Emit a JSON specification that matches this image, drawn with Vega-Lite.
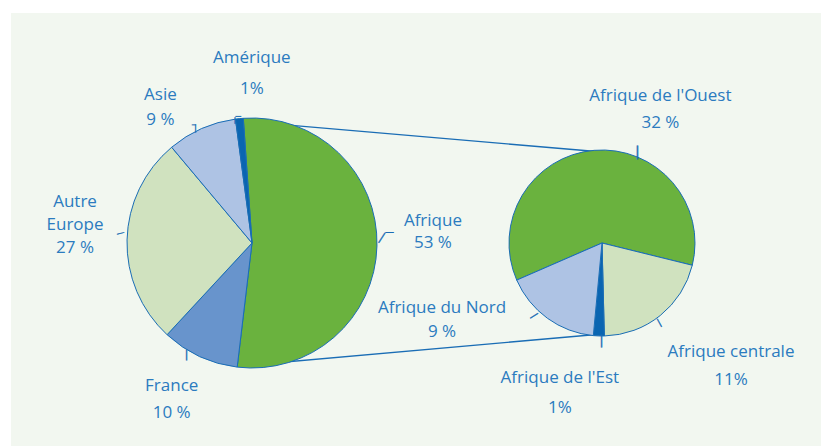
{
  "$schema": "https://vega.github.io/schema/vega-lite/v6.json",
  "width": 810,
  "height": 433,
  "autosize": {"type": "none"},
  "padding": {"left": 11, "top": 13, "right": 0, "bottom": 0},
  "background": "#ffffff",
  "config": {
    "view": {"fill": "#f2f7f0", "stroke": null},
    "text": {"font": "Open Sans", "fontSize": 17, "fill": "#2b7bbf", "align": "center", "baseline": "middle", "lineBreak": "\n"}
  },
  "datasets": {
    "ensemble": [
      {"groupe": "Ensemble", "zone": "Afrique", "part": 53, "rang": 1, "libelle": "Afrique\n53 %"},
      {"groupe": "Ensemble", "zone": "France", "part": 10, "rang": 2, "libelle": "France\n10 %"},
      {"groupe": "Ensemble", "zone": "Autre Europe", "part": 27, "rang": 3, "libelle": "Autre\nEurope\n27 %"},
      {"groupe": "Ensemble", "zone": "Asie", "part": 9, "rang": 4, "libelle": "Asie\n9 %"},
      {"groupe": "Ensemble", "zone": "Amérique", "part": 1, "rang": 5, "libelle": "Amérique\n1%"}
    ],
    "afrique": [
      {"groupe": "Afrique", "zone": "Afrique de l'Ouest", "part": 32, "rang": 1, "libelle": "Afrique de l'Ouest\n32 %"},
      {"groupe": "Afrique", "zone": "Afrique centrale", "part": 11, "rang": 2, "libelle": "Afrique centrale\n11%"},
      {"groupe": "Afrique", "zone": "Afrique de l'Est", "part": 1, "rang": 3, "libelle": "Afrique de l'Est\n1%"},
      {"groupe": "Afrique", "zone": "Afrique du Nord", "part": 9, "rang": 4, "libelle": "Afrique du Nord\n9 %"}
    ],
    "liaisons": [
      {"groupe": "Ensemble"},
      {"groupe": "Afrique"}
    ]
  },
  "layer": [
    {
      "data": {"name": "liaisons"},
      "mark": {"type": "line", "stroke": "#1a6db5", "strokeWidth": 1.4},
      "encoding": {
        "x": {"field": "groupe", "type": "nominal", "scale": {"type": "point", "domain": ["Ensemble", "Afrique"], "range": [241, 591], "padding": 0}, "axis": null},
        "y": {"field": "groupe", "type": "nominal", "scale": {"type": "point", "domain": ["Ensemble", "Afrique"], "range": [109, 139], "padding": 0}, "axis": null}
      }
    },
    {
      "data": {"name": "liaisons"},
      "mark": {"type": "line", "stroke": "#1a6db5", "strokeWidth": 1.4},
      "encoding": {
        "x": {"field": "groupe", "type": "nominal", "scale": {"type": "point", "domain": ["Ensemble", "Afrique"], "range": [241, 591], "padding": 0}, "axis": null},
        "y": {"field": "groupe", "type": "nominal", "scale": {"type": "point", "domain": ["Ensemble", "Afrique"], "range": [352, 321], "padding": 0}, "axis": null}
      }
    },
    {
      "data": {"name": "ensemble"},
      "encoding": {
        "x": {"field": "groupe", "type": "nominal", "scale": {"type": "point", "domain": ["Ensemble", "Afrique"], "range": [241, 591], "padding": 0}, "axis": null},
        "y": {"field": "groupe", "type": "nominal", "scale": {"type": "point", "domain": ["Ensemble", "Afrique"], "range": [230, 230], "padding": 0}, "axis": null},
        "theta": {"field": "part", "type": "quantitative", "stack": true, "scale": {"domain": [0, 100], "range": [-0.0698, 6.2134]}},
        "order": {"field": "rang", "type": "quantitative"},
        "detail": {"field": "zone", "type": "nominal"}
      },
      "layer": [
        {
          "mark": {"type": "arc", "outerRadius": 125, "stroke": "#1a6db5", "strokeWidth": 1},
          "encoding": {
            "color": {"field": "zone", "type": "nominal", "legend": null,
              "scale": {"domain": ["Afrique", "France", "Autre Europe", "Asie", "Amérique", "Afrique de l'Ouest", "Afrique centrale", "Afrique de l'Est", "Afrique du Nord"],
                        "range": ["#6ab23e", "#6894cc", "#d0e2bf", "#aec3e4", "#0a65b1", "#6ab23e", "#d0e2bf", "#0a65b1", "#aec3e4"]}}
          }
        },
        {"mark": {"type": "text", "radius": 131, "angle": -57.5, "dx": 6.5, "dy": -5.9, "font": "DejaVu Sans", "fontSize": 13, "fill": "#1a6db5", "stroke": "#1a6db5", "strokeWidth": 0.4},
         "encoding": {"text": {"condition": {"test": "datum.rang === 1", "value": "—"}, "value": ""}}},
        {"mark": {"type": "text", "radius": 131, "dx": 6.5, "dy": -14.2, "font": "DejaVu Sans", "fontSize": 9, "fill": "#1a6db5", "stroke": "#1a6db5", "strokeWidth": 0.4},
         "encoding": {"text": {"condition": {"test": "datum.rang === 1", "value": "—"}, "value": ""}}},
        {"mark": {"type": "text", "radius": 131, "angle": 90, "dx": -7, "dy": 10, "font": "DejaVu Sans", "fontSize": 12, "fill": "#1a6db5", "stroke": "#1a6db5", "strokeWidth": 0.4},
         "encoding": {"text": {"condition": {"test": "datum.rang === 2", "value": "—"}, "value": ""}}},
        {"mark": {"type": "text", "radius": 131, "angle": -15, "dx": 1.2, "dy": -6.2, "font": "DejaVu Sans", "fontSize": 8, "fill": "#1a6db5", "stroke": "#1a6db5", "strokeWidth": 0.4},
         "encoding": {"text": {"condition": {"test": "datum.rang === 3", "value": "—"}, "value": ""}}},
        {"mark": {"type": "text", "radius": 131, "angle": 90, "dx": 5.4, "dy": 3.6, "font": "DejaVu Sans", "fontSize": 9, "fill": "#1a6db5", "stroke": "#1a6db5", "strokeWidth": 0.4},
         "encoding": {"text": {"condition": {"test": "datum.rang === 4", "value": "—"}, "value": ""}}},
        {"mark": {"type": "text", "radius": 131, "dx": -5.5, "dy": 1.5, "font": "DejaVu Sans", "fontSize": 4, "fill": "#1a6db5", "stroke": "#1a6db5", "strokeWidth": 0.6},
         "encoding": {"text": {"condition": {"test": "datum.rang === 4", "value": "—"}, "value": ""}}},
        {"mark": {"type": "text", "radius": 131, "angle": 90, "dx": 7.8, "dy": 3.3, "font": "DejaVu Sans", "fontSize": 7, "fill": "#1a6db5", "stroke": "#1a6db5", "strokeWidth": 0.5},
         "encoding": {"text": {"condition": {"test": "datum.rang === 5", "value": "—"}, "value": ""}}},
        {"mark": {"type": "text", "radius": 131, "dx": -0.5, "dy": 3.3, "font": "DejaVu Sans", "fontSize": 6, "fill": "#1a6db5", "stroke": "#1a6db5", "strokeWidth": 0.5},
         "encoding": {"text": {"condition": {"test": "datum.rang === 5", "value": "—"}, "value": ""}}},
        {"mark": {"type": "text", "radius": 170, "dx": 11, "dy": -26, "lineHeight": 22},
         "encoding": {"text": {"condition": {"test": "datum.rang === 1", "field": "libelle"}, "value": ""}}},
        {"mark": {"type": "text", "radius": 170, "dx": -9, "dy": -11, "lineHeight": 27},
         "encoding": {"text": {"condition": {"test": "datum.rang === 2", "field": "libelle"}, "value": ""}}},
        {"mark": {"type": "text", "radius": 170, "dx": -7, "dy": -37, "lineHeight": 23},
         "encoding": {"text": {"condition": {"test": "datum.rang === 3", "field": "libelle"}, "value": ""}}},
        {"mark": {"type": "text", "radius": 170, "dx": -23, "dy": 8, "lineHeight": 25},
         "encoding": {"text": {"condition": {"test": "datum.rang === 4", "field": "libelle"}, "value": ""}}},
        {"mark": {"type": "text", "radius": 170, "dx": 17, "dy": -16, "lineHeight": 31},
         "encoding": {"text": {"condition": {"test": "datum.rang === 5", "field": "libelle"}, "value": ""}}}
      ]
    },
    {
      "data": {"name": "afrique"},
      "encoding": {
        "x": {"field": "groupe", "type": "nominal", "scale": {"type": "point", "domain": ["Ensemble", "Afrique"], "range": [241, 591], "padding": 0}, "axis": null},
        "y": {"field": "groupe", "type": "nominal", "scale": {"type": "point", "domain": ["Ensemble", "Afrique"], "range": [230, 230], "padding": 0}, "axis": null},
        "theta": {"field": "part", "type": "quantitative", "stack": true, "scale": {"domain": [0, 53], "range": [-1.981, 4.302]}},
        "order": {"field": "rang", "type": "quantitative"},
        "detail": {"field": "zone", "type": "nominal"}
      },
      "layer": [
        {
          "mark": {"type": "arc", "outerRadius": 93, "stroke": "#1a6db5", "strokeWidth": 1},
          "encoding": {
            "color": {"field": "zone", "type": "nominal", "legend": null,
              "scale": {"domain": ["Afrique", "France", "Autre Europe", "Asie", "Amérique", "Afrique de l'Ouest", "Afrique centrale", "Afrique de l'Est", "Afrique du Nord"],
                        "range": ["#6ab23e", "#6894cc", "#d0e2bf", "#aec3e4", "#0a65b1", "#6ab23e", "#d0e2bf", "#0a65b1", "#aec3e4"]}}
          }
        },
        {"mark": {"type": "text", "radius": 99, "angle": 90, "dx": 8.2, "dy": -44.3, "font": "DejaVu Sans", "fontSize": 15, "fill": "#1a6db5", "stroke": "#1a6db5", "strokeWidth": 0.4},
         "encoding": {"text": {"condition": {"test": "datum.rang === 1", "value": "—"}, "value": ""}}},
        {"mark": {"type": "text", "radius": 99, "angle": 61, "dx": -0.1, "dy": 5.1, "font": "DejaVu Sans", "fontSize": 10, "fill": "#1a6db5", "stroke": "#1a6db5", "strokeWidth": 0.4},
         "encoding": {"text": {"condition": {"test": "datum.rang === 2", "value": "—"}, "value": ""}}},
        {"mark": {"type": "text", "radius": 99, "angle": 90, "dx": -0.9, "dy": -3.5, "font": "DejaVu Sans", "fontSize": 14, "fill": "#1a6db5", "stroke": "#1a6db5", "strokeWidth": 0.4},
         "encoding": {"text": {"condition": {"test": "datum.rang === 3", "value": "—"}, "value": ""}}},
        {"mark": {"type": "text", "radius": 99, "angle": -32, "dx": -4.4, "dy": -11.8, "font": "DejaVu Sans", "fontSize": 10, "fill": "#1a6db5", "stroke": "#1a6db5", "strokeWidth": 0.4},
         "encoding": {"text": {"condition": {"test": "datum.rang === 4", "value": "—"}, "value": ""}}},
        {"mark": {"type": "text", "radius": 150, "dx": 71, "dy": 2, "lineHeight": 27},
         "encoding": {"text": {"condition": {"test": "datum.rang === 1", "field": "libelle"}, "value": ""}}},
        {"mark": {"type": "text", "radius": 150, "dx": 35, "dy": -8, "lineHeight": 28},
         "encoding": {"text": {"condition": {"test": "datum.rang === 2", "field": "libelle"}, "value": ""}}},
        {"mark": {"type": "text", "radius": 150, "dx": -37, "dy": -15, "lineHeight": 30},
         "encoding": {"text": {"condition": {"test": "datum.rang === 3", "field": "libelle"}, "value": ""}}},
        {"mark": {"type": "text", "radius": 150, "dx": -72, "dy": -56, "lineHeight": 24},
         "encoding": {"text": {"condition": {"test": "datum.rang === 4", "field": "libelle"}, "value": ""}}}
      ]
    }
  ],
  "resolve": {"scale": {"y": "independent", "theta": "independent"}}
}
